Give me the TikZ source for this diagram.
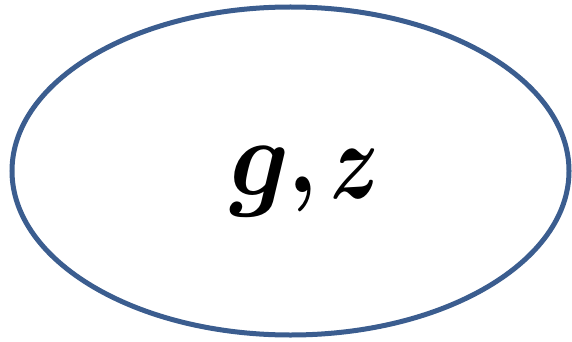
\documentclass[tikz,border=0pt]{standalone}
\usepackage{amsmath,bm,graphicx}
\definecolor{edgeblue}{HTML}{3B5D8F}
\usetikzlibrary{shapes.geometric}
\tikzset{oval/.style={draw=edgeblue,line width=5pt,ellipse,minimum width=557pt,minimum height=328pt,inner sep=0pt},
  glyph/.style={anchor=base west,inner sep=0pt}}
\begin{document}
\begin{tikzpicture}[x=1pt,y=-1pt]
\useasboundingbox (0,0) rectangle (572,342);
\node[oval] (e) at (290.5,171) {};
\node[glyph] (g) at (229,195) {\scalebox{10.4}[11]{$\bm{g}$}};
\node[glyph] (c) at (288,192) {\scalebox{9}[10]{$\bm{,}$}};
\node[glyph] (z) at (330,198) {\scalebox{8.2}[11]{$\bm{z}$}};
\end{tikzpicture}
\end{document}
